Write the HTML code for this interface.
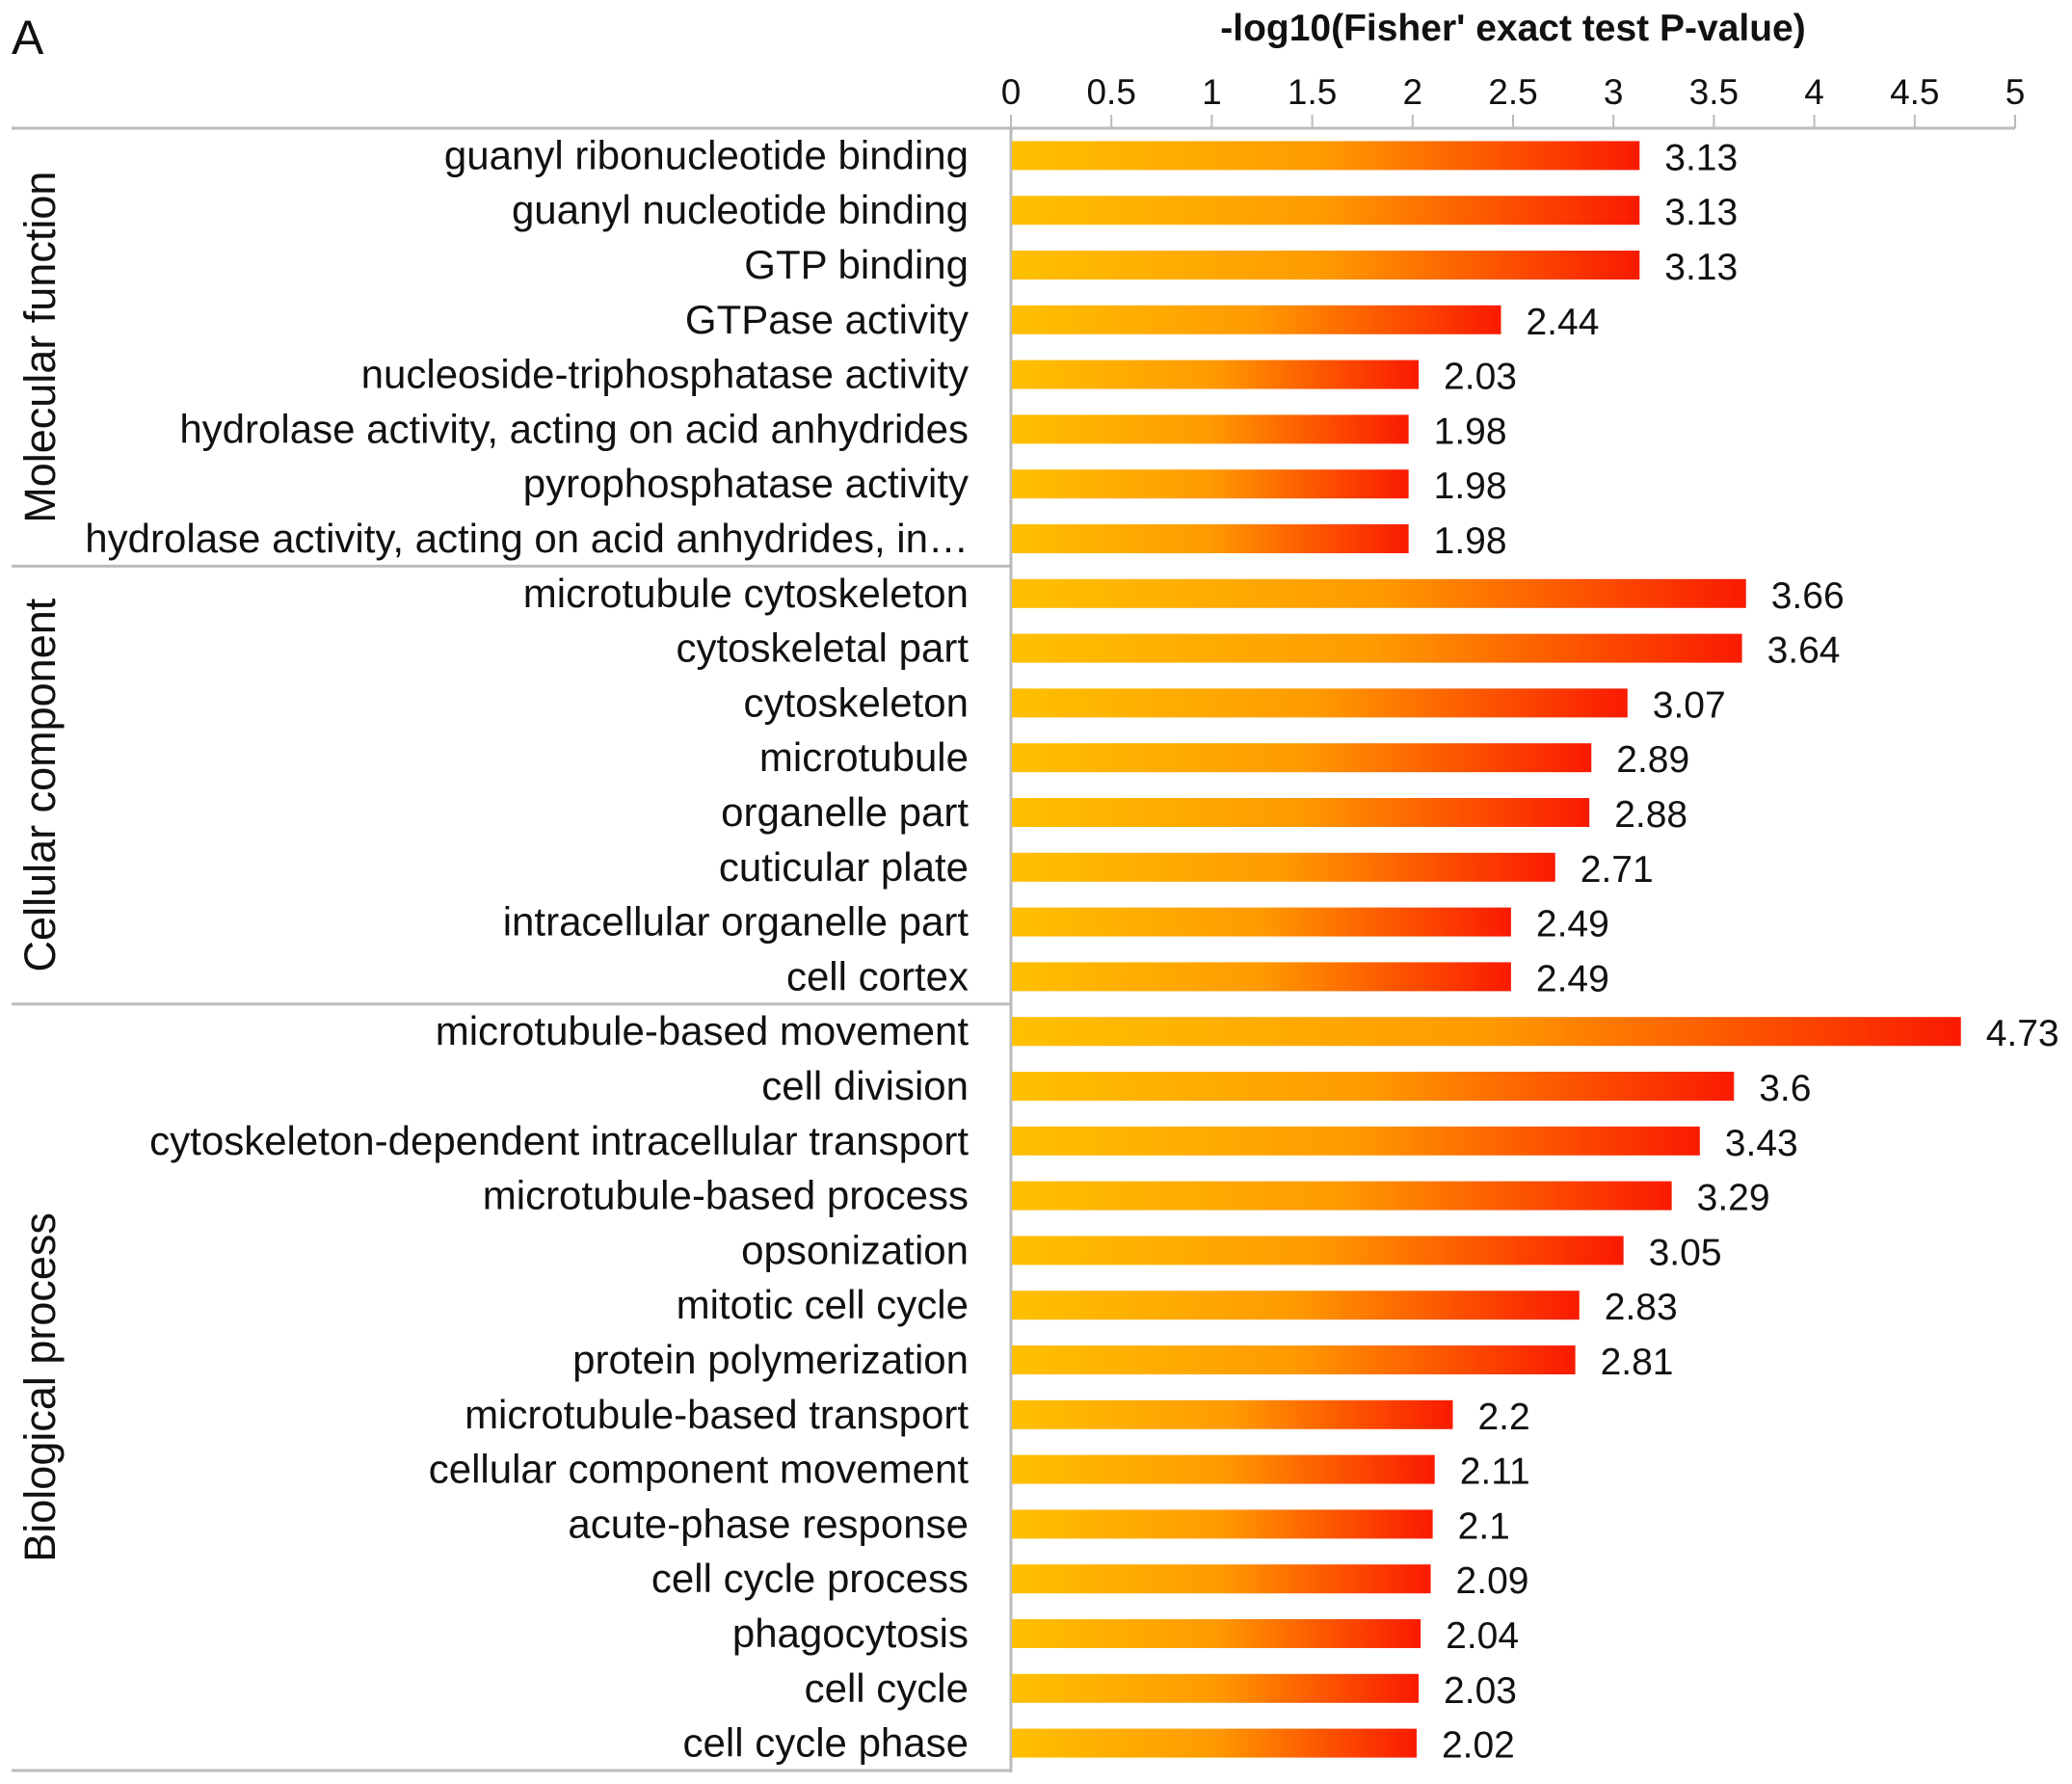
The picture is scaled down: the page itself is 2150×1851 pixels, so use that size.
<!DOCTYPE html>
<html><head><meta charset="utf-8"><style>html,body{margin:0;padding:0;background:#fff}svg{display:block}text{font-family:"Liberation Sans",sans-serif;fill:#111}</style></head>
<body>
<svg id="chart" width="2150" height="1851" viewBox="0 0 2150 1851" xmlns="http://www.w3.org/2000/svg">
<defs><linearGradient id="g" x1="0" y1="0" x2="1" y2="0"><stop offset="0" stop-color="#FFC000"/><stop offset="0.5" stop-color="#FF9A00"/><stop offset="1" stop-color="#FA1A00"/></linearGradient></defs>
<text x="12" y="56" font-size="50">A</text>
<text x="1570" y="42" font-size="39" font-weight="bold" text-anchor="middle">-log10(Fisher' exact test P-value)</text>
<g id="axis"></g><g id="bars"></g>
</svg>
<script>
const categories=["guanyl ribonucleotide binding","guanyl nucleotide binding","GTP binding","GTPase activity","nucleoside-triphosphatase activity","hydrolase activity, acting on acid anhydrides","pyrophosphatase activity","hydrolase activity, acting on acid anhydrides, in…","microtubule cytoskeleton","cytoskeletal part","cytoskeleton","microtubule","organelle part","cuticular plate","intracellular organelle part","cell cortex","microtubule-based movement","cell division","cytoskeleton-dependent intracellular transport","microtubule-based process","opsonization","mitotic cell cycle","protein polymerization","microtubule-based transport","cellular component movement","acute-phase response","cell cycle process","phagocytosis","cell cycle","cell cycle phase"];
const values=[3.13,3.13,3.13,2.44,2.03,1.98,1.98,1.98,3.66,3.64,3.07,2.89,2.88,2.71,2.49,2.49,4.73,3.6,3.43,3.29,3.05,2.83,2.81,2.2,2.11,2.1,2.09,2.04,2.03,2.02];
const valueLabels=["3.13","3.13","3.13","2.44","2.03","1.98","1.98","1.98","3.66","3.64","3.07","2.89","2.88","2.71","2.49","2.49","4.73","3.6","3.43","3.29","3.05","2.83","2.81","2.2","2.11","2.1","2.09","2.04","2.03","2.02"];
const ticks=[0,0.5,1,1.5,2,2.5,3,3.5,4,4.5,5];
const tickLabels=["0","0.5","1","1.5","2","2.5","3","3.5","4","4.5","5"];
const groups=["Molecular function","Cellular component","Biological process"];
const groupSizes=[8,8,14];
const NS="http://www.w3.org/2000/svg";
const x0=1049,x1=2091,axisY=133,top0=133,pitch=56.8;
const xs=v=>x0+(x1-x0)*v/5;
const ys=i=>top0+pitch*(i+0.5);
function mk(t,a,p){const e=document.createElementNS(NS,t);for(const k in a)e.setAttribute(k,a[k]);p.appendChild(e);return e;}
const ax=document.getElementById('axis'),bg=document.getElementById('bars');
let l=mk('line',{x1:12,x2:x1,y1:axisY,y2:axisY,stroke:'#bbb','stroke-width':3},ax);


l=mk('line',{x1:x0,x2:x0,y1:axisY,y2:top0+pitch*30+2,stroke:'#bbb','stroke-width':3},ax);


ticks.forEach((t,i)=>{
 const tk=mk('line',{x1:xs(t),x2:xs(t),y1:axisY-14,y2:axisY,stroke:'#bbb','stroke-width':2},ax);
 
 
 const tl=mk('text',{x:xs(t),y:108,'font-size':37,'text-anchor':'middle'},ax);tl.textContent=tickLabels[i];
 
 
});
let start=0;
groups.forEach((g,gi)=>{
 const end=start+groupSizes[gi];
 const yb=top0+pitch*end;
 const sep=mk('line',{x1:12,x2:x0,y1:yb,y2:yb,stroke:'#bbb','stroke-width':3},ax);
 
 
 const cy=(top0+pitch*start+yb)/2;
 const gt=mk('text',{x:0,y:0,'font-size':45,'text-anchor':'middle',transform:`translate(57,${cy}) rotate(-90)`},ax);gt.textContent=g;
 
 
 start=end;
});
categories.forEach((c,i)=>{
 const y=ys(i);
 const r=mk('rect',{x:x0+1,y:y-15,width:xs(values[i])-x0-1,height:30,fill:'url(#g)'},bg);
 
 
 const t=mk('text',{x:1005,y:y+14,'font-size':42,'text-anchor':'end'},bg);t.textContent=c;
 
 
 const v=mk('text',{x:xs(values[i])+26,y:y+15,'font-size':39},bg);v.textContent=valueLabels[i];
 
 
});
</script>
</body></html>
